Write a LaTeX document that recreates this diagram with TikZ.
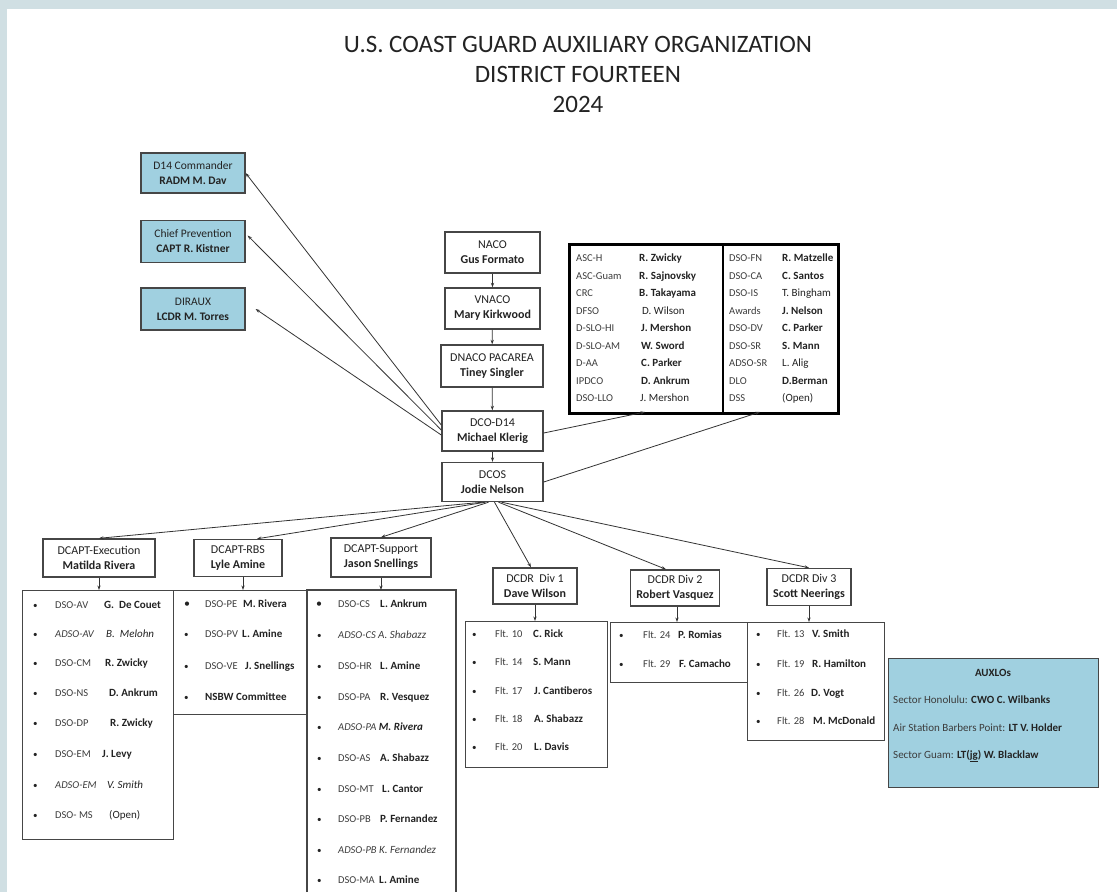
\documentclass[tikz,border=0pt]{standalone}
\usepackage{fontspec}
\setmainfont{Carlito}
\usetikzlibrary{arrows.meta}
\definecolor{bandc}{RGB}{208,223,227}
\definecolor{bluec}{RGB}{160,208,224}
\definecolor{linec}{RGB}{70,70,70}
\definecolor{txtc}{RGB}{35,35,35}
\definecolor{lblc}{RGB}{60,60,60}
\newcommand\lrow[8]{%
 \node[itm, font=\fontsize{9}{10}\selectfont] (#1b#2) at (#4,{#3+3.3}) {\textbullet};
 \node[itm, text=lblc] (#1l#2) at (#5,{#3+3.3}) {#7};
 \node[itm, font=\fontsize{11}{12}\selectfont] (#1n#2) at (#6,{#3+3.3}) {#8};}
\newcommand\trow[7]{%
 \node[itm, text=lblc] (#1l#2) at (#4,{#3+3.5}) {#6};
 \node[itm, font=\fontsize{11}{12}\selectfont] (#1n#2) at (#5,{#3+3.5}) {#7};}
\begin{document}
\begin{tikzpicture}[x=1pt,y=-1pt,
  hbox/.style={draw=linec, line width=1.4pt, fill=white, align=center,
    font=\fontsize{12}{15}\selectfont, text=txtc, inner sep=0pt},
  bbox/.style={hbox, fill=bluec, line width=1.2pt, font=\fontsize{11.5}{15}\selectfont},
  arr/.style={draw=black!80, line width=0.8pt, -{Stealth[length=4.5pt,width=3.2pt]}},
  lst/.style={draw=linec, line width=1.2pt, inner sep=0pt, anchor=north west},
  itm/.style={anchor=base west, inner sep=0pt, font=\fontsize{10.5}{12}\selectfont, text=txtc}]
\useasboundingbox (0,0) rectangle (1117,892);
\fill[bandc] (0,0) rectangle (1117,892);
\fill[white] (7,9) rectangle (1117,892);
% title
\node[font=\fontsize{25}{28}\selectfont, text=txtc] (t1) at (578,44) {U.S. COAST GUARD AUXILIARY ORGANIZATION};
\node[font=\fontsize{25}{28}\selectfont, text=txtc] (t2) at (578,74) {DISTRICT FOURTEEN};
\node[font=\fontsize{25}{28}\selectfont, text=txtc] (t3) at (578,104) {2024};
% blue boxes
\node[bbox, minimum width=104pt, minimum height=40pt] (d14) at (193,173) {D14 Commander\\\textbf{RADM M. Dav}};
\node[bbox, minimum width=104pt, minimum height=42pt] (chief) at (193,241.5) {Chief Prevention\\\textbf{CAPT R. Kistner}};
\node[bbox, minimum width=104pt, minimum height=42pt] (diraux) at (193,309) {DIRAUX\\\textbf{LCDR M. Torres}};
% chain
\node[hbox, minimum width=95pt, minimum height=41pt] (naco) at (492.5,252.5) {NACO\\\textbf{Gus Formato}};
\node[hbox, minimum width=95pt, minimum height=41pt] (vnaco) at (492.5,308.5) {VNACO\\\textbf{Mary Kirkwood}};
\node[hbox, minimum width=102pt, minimum height=42pt] (dnaco) at (492,366) {DNACO PACAREA\\\textbf{Tiney Singler}};
\node[hbox, minimum width=101pt, minimum height=40pt] (dco) at (492.5,431) {DCO-D14\\\textbf{Michael Klerig}};
\node[hbox, minimum width=101pt, minimum height=39pt] (dcos) at (492.5,482) {DCOS\\\textbf{Jodie Nelson}};
\draw[arr] (naco) -- (vnaco);
\draw[arr] (vnaco) -- (dnaco);
\draw[arr] (dnaco) -- (dco);
\draw[arr] (dco) -- (dcos);
\draw[arr] ([yshift=6pt]dco.west) -- (d14.east);
\draw[arr] ([yshift=1pt]dco.west) -- ([xshift=2pt,yshift=6pt]chief.east);
\draw[arr] ([yshift=-4pt]dco.west) -- ([xshift=10pt]diraux.east);
% table
\node[draw=black, line width=2.5pt, anchor=north west, minimum width=269pt, minimum height=169pt, inner sep=0pt] (tbl) at (568,243) {};
\draw[line width=2.3pt] (723,243) -- (723,412);
\coordinate (tA) at (645,412);
\coordinate (tB) at (760,412);
\draw[arr] ([yshift=-2pt]dco.east) -- (tA);
\draw[arr] (dcos.east) -- (tB);
\trow{ta}{1}{258.0}{576}{639}{ASC-H}{\textbf{R. Zwicky}}
\trow{ta}{2}{275.5}{576}{639}{ASC-Guam}{\textbf{R. Sajnovsky}}
\trow{ta}{3}{293.0}{576}{639}{CRC}{\textbf{B. Takayama}}
\trow{ta}{4}{310.5}{576}{642}{DFSO}{D. Wilson}
\trow{ta}{5}{328.0}{576}{641}{D-SLO-HI}{\textbf{J. Mershon}}
\trow{ta}{6}{345.5}{576}{641}{D-SLO-AM}{\textbf{W. Sword}}
\trow{ta}{7}{363.0}{576}{641}{D-AA}{\textbf{C. Parker}}
\trow{ta}{8}{380.5}{576}{641}{IPDCO}{\textbf{D. Ankrum}}
\trow{ta}{9}{398.0}{576}{640}{DSO-LLO}{J. Mershon}
\trow{tb}{1}{258.0}{729}{782}{DSO-FN}{\textbf{R. Matzelle}}
\trow{tb}{2}{275.5}{729}{782}{DSO-CA}{\textbf{C. Santos}}
\trow{tb}{3}{293.0}{729}{782}{DSO-IS}{T. Bingham}
\trow{tb}{4}{310.5}{729}{782}{Awards}{\textbf{J. Nelson}}
\trow{tb}{5}{328.0}{729}{782}{DSO-DV}{\textbf{C. Parker}}
\trow{tb}{6}{345.5}{729}{782}{DSO-SR}{\textbf{S. Mann}}
\trow{tb}{7}{363.0}{729}{782}{ADSO-SR}{L. Alig}
\trow{tb}{8}{380.5}{729}{782}{DLO}{\textbf{D.Berman}}
\trow{tb}{9}{398.0}{729}{782}{DSS}{(Open)}
% second level boxes
\node[hbox, minimum width=112pt, minimum height=38pt] (ex) at (99,558) {DCAPT-Execution\\\textbf{Matilda Rivera}};
\node[hbox, minimum width=88pt, minimum height=37pt] (rbs) at (238,558) {DCAPT-RBS\\\textbf{Lyle Amine}};
\node[hbox, minimum width=100pt, minimum height=39pt] (sup) at (381,557.5) {DCAPT-Support\\\textbf{Jason Snellings}};
\node[hbox, minimum width=84pt, minimum height=36pt] (dv1) at (535,586) {DCDR\ \ Div 1\\\textbf{Dave Wilson}};
\node[hbox, minimum width=89pt, minimum height=36pt] (dv2) at (675,588) {DCDR Div 2\\\textbf{Robert Vasquez}};
\node[hbox, minimum width=84pt, minimum height=37pt] (dv3) at (809,587) {DCDR Div 3\\\textbf{Scott Neerings}};
\draw[arr] ([xshift=-10pt]dcos.south) -- (ex.north);
\draw[arr] ([xshift=-7pt]dcos.south) -- ([xshift=19pt]rbs.north);
\draw[arr] ([xshift=-4pt]dcos.south) -- (sup.north);
\draw[arr] ([xshift=2pt]dcos.south) -- ([xshift=-4pt]dv1.north);
\draw[arr] ([xshift=6pt]dcos.south) -- ([xshift=-9pt]dv2.north);
\draw[arr] ([xshift=9pt]dcos.south) -- (dv3.north);
% lists
\node[lst, minimum width=151pt, minimum height=249pt] (exl) at (22,590) {};
\node[lst, minimum width=134pt, minimum height=124pt] (rbsl) at (173,590) {};
\draw[draw=linec, line width=1.2pt] (307,892) -- (307,590) -- (456,590) -- (456,892);
\coordinate (supl) at (381,590);
\node[lst, minimum width=142pt, minimum height=146pt] (dv1l) at (465,621) {};
\node[lst, minimum width=137pt, minimum height=60pt] (dv2l) at (610,622) {};
\node[lst, minimum width=137pt, minimum height=118pt] (dv3l) at (747,622) {};
\draw[arr] (ex.south) -- (ex.south |- exl.north);
\draw[arr] ([xshift=5pt]rbs.south) -- ([xshift=5pt]rbs.south |- rbsl.north);
\draw[arr] (sup.south) -- (supl);
\draw[arr] (dv1.south) -- (dv1.south |- dv1l.north);
\draw[arr] ([xshift=2pt]dv2.south) -- ([xshift=2pt]dv2.south |- dv2l.north);
\draw[arr] (dv3.south) -- (dv3.south |- dv3l.north);
% exec items
\lrow{ea}{1}{605}{33}{55}{104}{DSO-AV}{\textbf{G.\ \ De Couet}}
\lrow{ea}{2}{634}{33}{55}{106}{\textit{ADSO-AV}}{\textit{B.\ \ Melohn}}
\lrow{ea}{3}{663}{33}{55}{105}{DSO-CM}{\textbf{R. Zwicky}}
\lrow{ea}{4}{693}{33}{55}{109}{DSO-NS}{\textbf{D. Ankrum}}
\lrow{ea}{5}{723}{33}{55}{110}{DSO-DP}{\textbf{R. Zwicky}}
\lrow{ea}{6}{754}{33}{55}{102}{DSO-EM}{\textbf{J. Levy}}
\lrow{ea}{7}{785}{33}{55}{107}{\textit{ADSO-EM}}{\textit{V. Smith}}
\lrow{ea}{8}{815}{33}{55}{109}{DSO- MS}{(Open)}
% rbs items
\node[itm, font=\fontsize{12}{12}\selectfont] (rab1) at (184,{604+3.6}) {\textbullet};
\node[itm, text=lblc] (ral1) at (205,{604+3.3}) {DSO-PE};
\node[itm, font=\fontsize{11}{12}\selectfont] (ran1) at (243,{604+3.3}) {\textbf{M. Rivera}};
\lrow{ra}{2}{634}{184}{205}{242}{DSO-PV}{\textbf{L. Amine}}
\lrow{ra}{3}{666}{184}{205}{245}{DSO-VE}{\textbf{J. Snellings}}
\node[itm, font=\fontsize{9}{10}\selectfont] (rab4) at (184,{697+3.3}) {\textbullet};
\node[itm, font=\fontsize{11}{12}\selectfont] (ral4) at (205,{697+3.3}) {\textbf{NSBW Committee}};
% support items
\node[itm, font=\fontsize{12}{12}\selectfont] (sab1) at (316,{604+3.6}) {\textbullet};
\node[itm, text=lblc] (sal1) at (338,{604+3.3}) {DSO-CS};
\node[itm, font=\fontsize{11}{12}\selectfont] (san1) at (380,{604+3.3}) {\textbf{L. Ankrum}};
\node[itm, font=\fontsize{9}{10}\selectfont] (sab2) at (317,{635+3.3}) {\textbullet};
\node[itm, text=lblc] (sal2) at (338,{635+3.3}) {\textit{ADSO-CS\ \fontsize{11}{12}\selectfont A. Shabazz}};
\lrow{sa}{3}{666}{317}{338}{380}{DSO-HR}{\textbf{L. Amine}}
\lrow{sa}{4}{697}{317}{338}{380}{DSO-PA}{\textbf{R. Vesquez}}
\node[itm, font=\fontsize{9}{10}\selectfont] (sab5) at (317,{727+3.3}) {\textbullet};
\node[itm, text=lblc] (sal5) at (338,{727+3.3}) {\textit{ADSO-PA}\ \fontsize{11}{12}\selectfont\textcolor{txtc}{\textbf{\textit{M. Rivera}}}};
\lrow{sa}{6}{758}{317}{338}{380}{DSO-AS}{\textbf{A. Shabazz}}
\lrow{sa}{7}{789}{317}{338}{382}{DSO-MT}{\textbf{L. Cantor}}
\lrow{sa}{8}{819}{317}{338}{380}{DSO-PB}{\textbf{P. Fernandez}}
\node[itm, font=\fontsize{9}{10}\selectfont] (sab9) at (317,{850+3.3}) {\textbullet};
\node[itm, text=lblc] (sal9) at (338,{850+3.3}) {\textit{ADSO-PB \fontsize{11}{12}\selectfont K. Fernandez}};
\lrow{sa}{10}{880}{317}{338}{379}{DSO-MA}{\textbf{L. Amine}}
% div 1
\lrow{da}{1}{634}{472}{495}{533}{Flt. 10}{\textbf{C. Rick}}
\lrow{da}{2}{662}{472}{495}{533}{Flt. 14}{\textbf{S. Mann}}
\lrow{da}{3}{691}{472}{495}{534}{Flt. 17}{\textbf{J. Cantiberos}}
\lrow{da}{4}{719}{472}{495}{534}{Flt. 18}{\textbf{A. Shabazz}}
\lrow{da}{5}{747}{472}{495}{534}{Flt. 20}{\textbf{L. Davis}}
% div 2
\lrow{db}{1}{635}{619}{643}{678}{Flt. 24}{\textbf{P. Romias}}
\lrow{db}{2}{664}{619}{643}{679}{Flt. 29}{\textbf{F. Camacho}}
% div 3
\lrow{dc}{1}{634}{756}{777}{812}{Flt. 13}{\textbf{V. Smith}}
\lrow{dc}{2}{664}{756}{777}{812}{Flt. 19}{\textbf{R. Hamilton}}
\lrow{dc}{3}{693}{756}{777}{811}{Flt. 26}{\textbf{D. Vogt}}
\lrow{dc}{4}{721}{756}{777}{813}{Flt. 28}{\textbf{M. McDonald}}
% AUXLOs
\node[lst, fill=bluec, minimum width=210pt, minimum height=129pt] (aux) at (888,658) {};
\node[itm, anchor=center, font=\fontsize{11}{12}\selectfont] (auxh) at (993,673) {\textbf{AUXLOs}};
\node[itm, font=\fontsize{11}{12}\selectfont] (aux1) at (893,{700+3.3}) {\textcolor{lblc}{Sector Honolulu:} \textbf{CWO C. Wilbanks}};
\node[itm, font=\fontsize{11}{12}\selectfont] (aux2) at (893,{728+3.3}) {\textcolor{lblc}{Air Station Barbers Point:} \textbf{LT V. Holder}};
\node[itm, font=\fontsize{11}{12}\selectfont] (aux3) at (893,{755+3.3}) {\textcolor{lblc}{Sector Guam:} \textbf{LT(\underline{jg}) W. Blacklaw}};
\end{tikzpicture}
\end{document}
